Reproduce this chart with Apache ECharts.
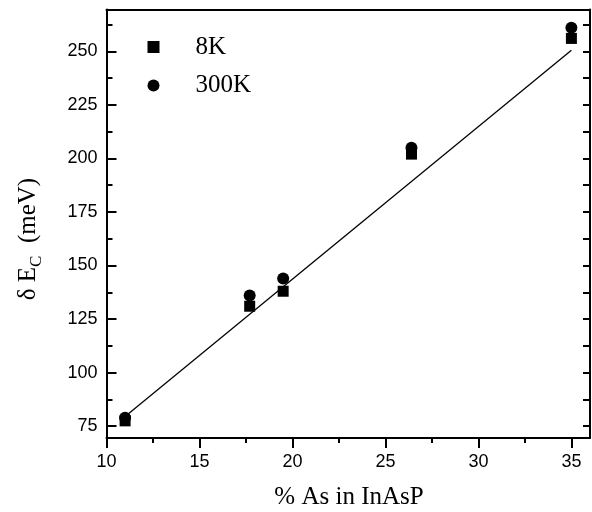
<!DOCTYPE html>
<html>
<head>
<meta charset="utf-8">
<script src="https://cdn.jsdelivr.net/npm/echarts@6/dist/echarts.min.js"></script>
<style>html,body{margin:0;padding:0;background:#fff}#c{width:592px;height:512px}</style>
</head>
<body>
<div id="c"></div>
<script>
// Data
const asPercent = [11.0, 17.7, 19.5, 26.4, 35.0];
const dEc8K = [77.5, 131, 138, 202, 256];
const dEc300K = [79, 136, 144, 205, 261];
const fitX = [11.0, 35.0];
const fitY = [79.5, 250.5];
// Ticks
const xMajorTicks = [10, 15, 20, 25, 30, 35];
const xMinorTicks = [12.5, 17.5, 22.5, 27.5, 32.5];
const yMajorTicks = [75, 100, 125, 150, 175, 200, 225, 250];
const yMinorTicks = [87.5, 112.5, 137.5, 162.5, 187.5, 212.5, 237.5, 262.5];
const seriesNames = ['8K', '300K'];

const pair = (xs, ys) => xs.map((x, i) => [x, ys[i]]);
const xMin = 10, xMax = 36, yMin = 69.5, yMax = 269.5;
const serif = 'Liberation Serif';
const sans = 'Liberation Sans';

const chart = echarts.init(document.getElementById('c'), null, {renderer: 'canvas'});
chart.setOption({
  animation: false,
  backgroundColor: '#fff',
  grid: {left: 106.5, right: 2, top: 9.5, bottom: 74, containLabel: false},
  legend: {
    orient: 'vertical', left: 142.5, top: 29.5,
    itemWidth: 12, itemHeight: 12, itemGap: 13.5,
    data: [{name: seriesNames[0], icon: 'rect'}, {name: seriesNames[1], icon: 'circle'}],
    textStyle: {fontFamily: serif, fontSize: 25, color: '#000', lineHeight: 24, padding: [0, 0, 0, 31]}
  },
  xAxis: [
    {type: 'value', position: 'bottom', min: xMin, max: xMax,
     axisLine: {show: true, lineStyle: {color: '#000', width: 2}},
     axisTick: {show: true, inside: false, length: 10, lineStyle: {color: '#000', width: 2}, customValues: xMajorTicks},
     axisLabel: {show: true, customValues: xMajorTicks, fontFamily: sans, fontSize: 18, color: '#000', margin: 15},
     splitLine: {show: false}},
    {type: 'value', position: 'bottom', min: xMin, max: xMax,
     axisLine: {show: false},
     axisTick: {show: true, inside: false, length: 5, lineStyle: {color: '#000', width: 2}, customValues: xMinorTicks},
     axisLabel: {show: false}, splitLine: {show: false}},
    {type: 'value', position: 'top', min: xMin, max: xMax,
     axisLine: {show: true, lineStyle: {color: '#000', width: 2}},
     axisTick: {show: false}, axisLabel: {show: false}, splitLine: {show: false}}
  ],
  yAxis: [
    {type: 'value', position: 'left', min: yMin, max: yMax,
     axisLine: {show: true, lineStyle: {color: '#000', width: 2}},
     axisTick: {show: true, inside: true, length: 10, lineStyle: {color: '#000', width: 2}, customValues: yMajorTicks},
     axisLabel: {show: true, customValues: yMajorTicks, fontFamily: sans, fontSize: 18, color: '#000', margin: 9},
     splitLine: {show: false}},
    {type: 'value', position: 'left', min: yMin, max: yMax,
     axisLine: {show: false},
     axisTick: {show: true, inside: true, length: 6, lineStyle: {color: '#000', width: 2}, customValues: yMinorTicks},
     axisLabel: {show: false}, splitLine: {show: false}},
    {type: 'value', position: 'right', min: yMin, max: yMax,
     axisLine: {show: true, lineStyle: {color: '#000', width: 2}},
     axisTick: {show: true, inside: true, length: 7, lineStyle: {color: '#000', width: 2}, customValues: yMajorTicks.concat(yMinorTicks)},
     axisLabel: {show: false}, splitLine: {show: false}}
  ],
  graphic: [
    {type: 'text', x: 28, y: 239, rotation: Math.PI / 2,
     style: {text: '{a|δ E}{s|C}{a|  (meV)}', align: 'center', verticalAlign: 'middle', fill: '#000',
       rich: {a: {fontFamily: serif, fontSize: 25, lineHeight: 34, verticalAlign: 'middle', fill: '#000'},
              s: {fontFamily: serif, fontSize: 17, lineHeight: 34, verticalAlign: 'bottom', fill: '#000'}}}},
    {type: 'text', x: 349, y: 497,
     style: {text: '% As in InAsP', align: 'center', verticalAlign: 'middle', fill: '#000', font: '25px "Liberation Serif"'}}
  ],
  series: [
    {type: 'line', name: 'fit', data: pair(fitX, fitY), showSymbol: false, symbol: 'none',
     lineStyle: {color: '#000', width: 1.3}, z: 1, silent: true},
    {type: 'scatter', name: seriesNames[0], data: pair(asPercent, dEc8K), symbol: 'rect', symbolSize: 11,
     itemStyle: {color: '#000', opacity: 1}, z: 3},
    {type: 'scatter', name: seriesNames[1], data: pair(asPercent, dEc300K), symbol: 'circle', symbolSize: 12,
     itemStyle: {color: '#000', opacity: 1}, z: 3}
  ]
});
</script>
</body>
</html>
